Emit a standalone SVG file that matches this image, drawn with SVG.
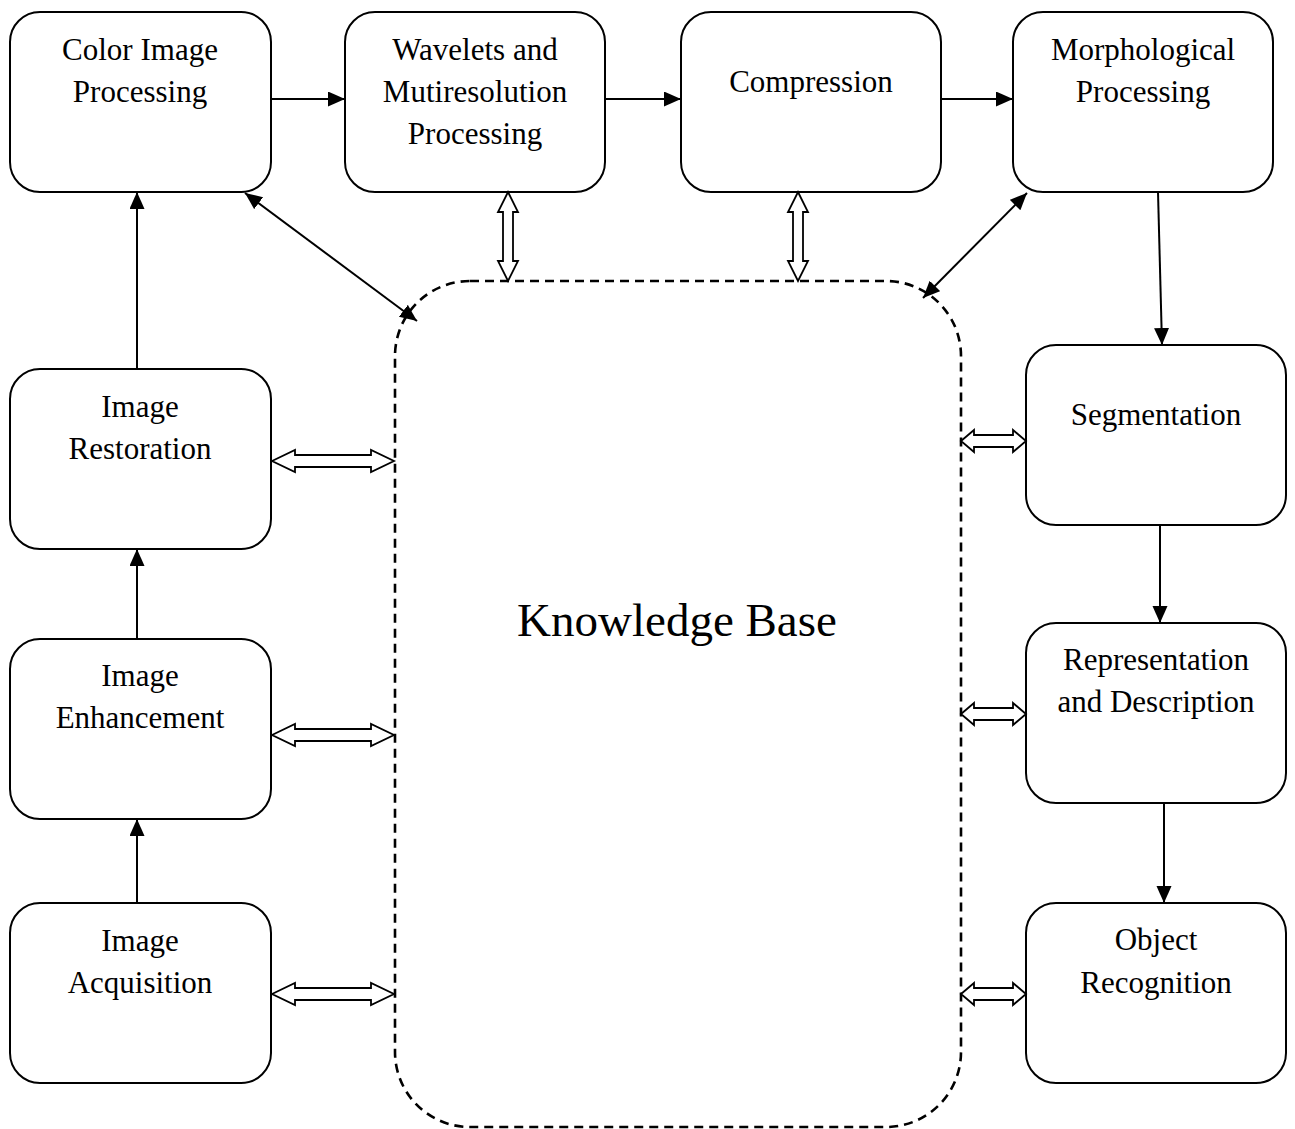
<svg xmlns="http://www.w3.org/2000/svg" width="1295" height="1129" viewBox="0 0 1295 1129">
<style>
.box{fill:#fff;stroke:#000;stroke-width:2}
.t{font-family:"Liberation Serif","Times New Roman",serif;font-size:31px;text-anchor:middle;fill:#000}
.ln{stroke:#000;stroke-width:2;fill:none}
.hol{fill:#fff;stroke:#000;stroke-width:1.8;stroke-linejoin:miter}
</style>
<defs>
<marker id="ah" markerUnits="userSpaceOnUse" markerWidth="18" markerHeight="16" refX="17" refY="7.5" orient="auto-start-reverse" viewBox="0 0 18 16">
<path d="M0,0 L17,7.5 L0,15 z" fill="#000"/>
</marker>
</defs>
<rect width="1295" height="1129" fill="#fff"/>
<g id="kb">
<rect x="395" y="281" width="566" height="846" rx="75" ry="75" fill="none" stroke="#000" stroke-width="2.6" stroke-dasharray="9 6"/>
<text x="677" y="636" style="font-family:'Liberation Serif','Times New Roman',serif;font-size:47px;text-anchor:middle">Knowledge Base</text>
</g>
<g id="color"><rect class="box" x="10" y="12" width="261" height="180" rx="30"/><text class="t" x="140" y="60">Color Image</text><text class="t" x="140" y="102">Processing</text></g>
<g id="wavelets"><rect class="box" x="345" y="12" width="260" height="180" rx="30"/><text class="t" x="475" y="60">Wavelets and</text><text class="t" x="475" y="102">Mutiresolution</text><text class="t" x="475" y="144">Processing</text></g>
<g id="compression"><rect class="box" x="681" y="12" width="260" height="180" rx="30"/><text class="t" x="811" y="92">Compression</text></g>
<g id="morph"><rect class="box" x="1013" y="12" width="260" height="180" rx="30"/><text class="t" x="1143" y="60">Morphological</text><text class="t" x="1143" y="102">Processing</text></g>
<g id="restoration"><rect class="box" x="10" y="369" width="261" height="180" rx="30"/><text class="t" x="140" y="417">Image</text><text class="t" x="140" y="459">Restoration</text></g>
<g id="enhancement"><rect class="box" x="10" y="639" width="261" height="180" rx="30"/><text class="t" x="140" y="686">Image</text><text class="t" x="140" y="728">Enhancement</text></g>
<g id="acquisition"><rect class="box" x="10" y="903" width="261" height="180" rx="30"/><text class="t" x="140" y="951">Image</text><text class="t" x="140" y="993">Acquisition</text></g>
<g id="segmentation"><rect class="box" x="1026" y="345" width="260" height="180" rx="30"/><text class="t" x="1156" y="425">Segmentation</text></g>
<g id="representation"><rect class="box" x="1026" y="623" width="260" height="180" rx="30"/><text class="t" x="1156" y="670">Representation</text><text class="t" x="1156" y="712">and Description</text></g>
<g id="recognition"><rect class="box" x="1026" y="903" width="260" height="180" rx="30"/><text class="t" x="1156" y="950">Object</text><text class="t" x="1156" y="993">Recognition</text></g>
<g id="connectors">
<line class="ln" x1="271" y1="99" x2="345" y2="99" marker-end="url(#ah)"/>
<line class="ln" x1="605" y1="99" x2="681" y2="99" marker-end="url(#ah)"/>
<line class="ln" x1="941" y1="99" x2="1013" y2="99" marker-end="url(#ah)"/>
<line class="ln" x1="1158" y1="192" x2="1162" y2="345" marker-end="url(#ah)"/>
<line class="ln" x1="1160" y1="525" x2="1160" y2="623" marker-end="url(#ah)"/>
<line class="ln" x1="1164" y1="803" x2="1164" y2="903" marker-end="url(#ah)"/>
<line class="ln" x1="137" y1="369" x2="137" y2="192" marker-end="url(#ah)"/>
<line class="ln" x1="137" y1="639" x2="137" y2="549" marker-end="url(#ah)"/>
<line class="ln" x1="137" y1="903" x2="137" y2="819" marker-end="url(#ah)"/>
<line class="ln" x1="245" y1="193" x2="417" y2="321" marker-start="url(#ah)" marker-end="url(#ah)"/>
<line class="ln" x1="1027" y1="193" x2="923" y2="298" marker-start="url(#ah)" marker-end="url(#ah)"/>
<polygon class="hol" points="508,192 518,212 513,212 513,261 518,261 508,281 498,261 503,261 503,212 498,212"/>
<polygon class="hol" points="798,192 808,212 803,212 803,261 808,261 798,281 788,261 793,261 793,212 788,212"/>
<polygon class="hol" points="272,461 295,450 295,455 371,455 371,450 394,461 371,472 371,467 295,467 295,472"/>
<polygon class="hol" points="272,735 295,724 295,729 371,729 371,724 394,735 371,746 371,741 295,741 295,746"/>
<polygon class="hol" points="272,994 295,983 295,988 371,988 371,983 394,994 371,1005 371,1000 295,1000 295,1005"/>
<polygon class="hol" points="961,441 974,430 974,435 1013,435 1013,430 1026,441 1013,452 1013,447 974,447 974,452"/>
<polygon class="hol" points="961,714 974,703 974,708 1013,708 1013,703 1026,714 1013,725 1013,720 974,720 974,725"/>
<polygon class="hol" points="961,994 974,983 974,988 1013,988 1013,983 1026,994 1013,1005 1013,1000 974,1000 974,1005"/>
</g>
</svg>
